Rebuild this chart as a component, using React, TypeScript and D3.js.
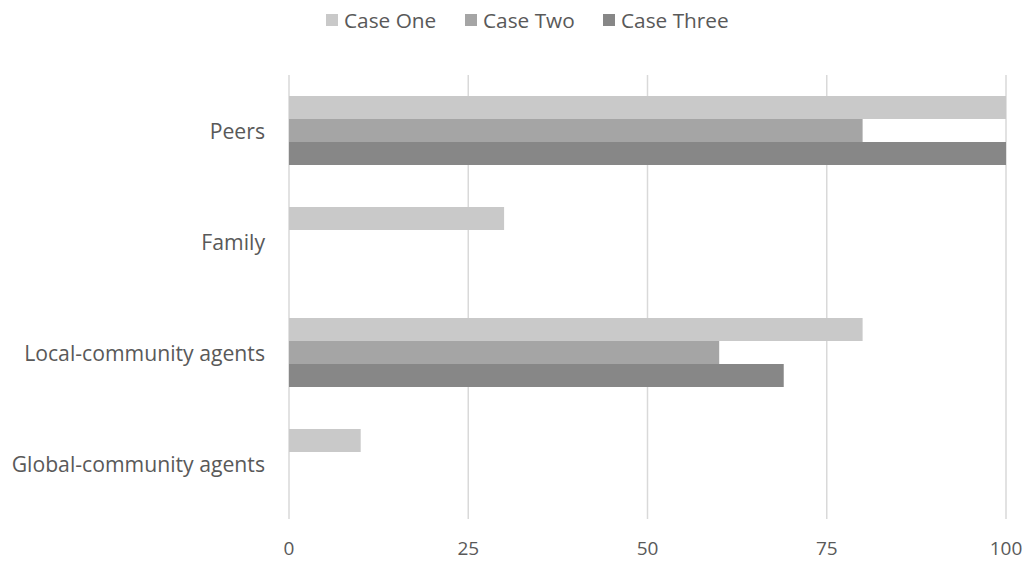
import React from "react";
import * as d3 from "d3";

const categories = ["Peers", "Family", "Local-community agents", "Global-community agents"];
const seriesNames = ["Case One", "Case Two", "Case Three"];
const caseOne = [100, 30, 80, 10];
const caseTwo = [80, 0, 60, 0];
const caseThree = [100, 0, 69, 0];
const xTicks = [0, 25, 50, 75, 100];
const colors = ["#c9c9c9", "#a5a5a5", "#878787"];

export default function App() {
  const W = 1031, H = 566;
  const left = 289, right = 1006, top = 75, bottom = 519;
  const x = d3.scaleLinear().domain([0, 100]).range([left, right]);
  const y = d3.scaleBand<string>().domain(categories).range([top, bottom]);
  const groupH = 69;
  const inner = d3.scaleBand<string>().domain(seriesNames).range([0, groupH]);
  const values = [caseOne, caseTwo, caseThree];
  const font = "'Open Sans', 'DejaVu Sans', sans-serif";
  const textColor = "#595959";
  const legendX = [326, 465, 603];
  return (
    <svg width={W} height={H} style={{ position: "absolute", left: 0, top: 0 }} fontFamily={font}>
      <rect width={W} height={H} fill="#fff" />
      {xTicks.map((t) => (
        <line key={t} x1={x(t)} x2={x(t)} y1={top} y2={bottom} stroke="#d9d9d9" strokeWidth={1.5} />
      ))}
      {categories.map((c, i) => {
        const y0 = (y(c) as number) + y.bandwidth() / 2 - groupH / 2;
        return (
          <g key={c}>
            {seriesNames.map((s, j) =>
              values[j][i] > 0 ? (
                <rect
                  key={s}
                  x={x(0)}
                  y={y0 + (inner(s) as number)}
                  width={x(values[j][i]) - x(0)}
                  height={inner.bandwidth()}
                  fill={colors[j]}
                />
              ) : null
            )}
            <text
              x={265}
              y={(y(c) as number) + y.bandwidth() / 2}
              textAnchor="end"
              dominantBaseline="central"
              fontSize={21.2}
              fill={textColor}
            >
              {c}
            </text>
          </g>
        );
      })}
      {xTicks.map((t) => (
        <text key={t} x={x(t)} y={548} textAnchor="middle" dominantBaseline="central" fontSize={19} fill={textColor}>
          {t}
        </text>
      ))}
      {seriesNames.map((s, j) => (
        <g key={s}>
          <rect x={legendX[j]} y={14} width={12} height={12} fill={colors[j]} />
          <text x={legendX[j] + 18} y={20} dominantBaseline="central" fontSize={20.8} fill={textColor}>
            {s}
          </text>
        </g>
      ))}
    </svg>
  );
}
